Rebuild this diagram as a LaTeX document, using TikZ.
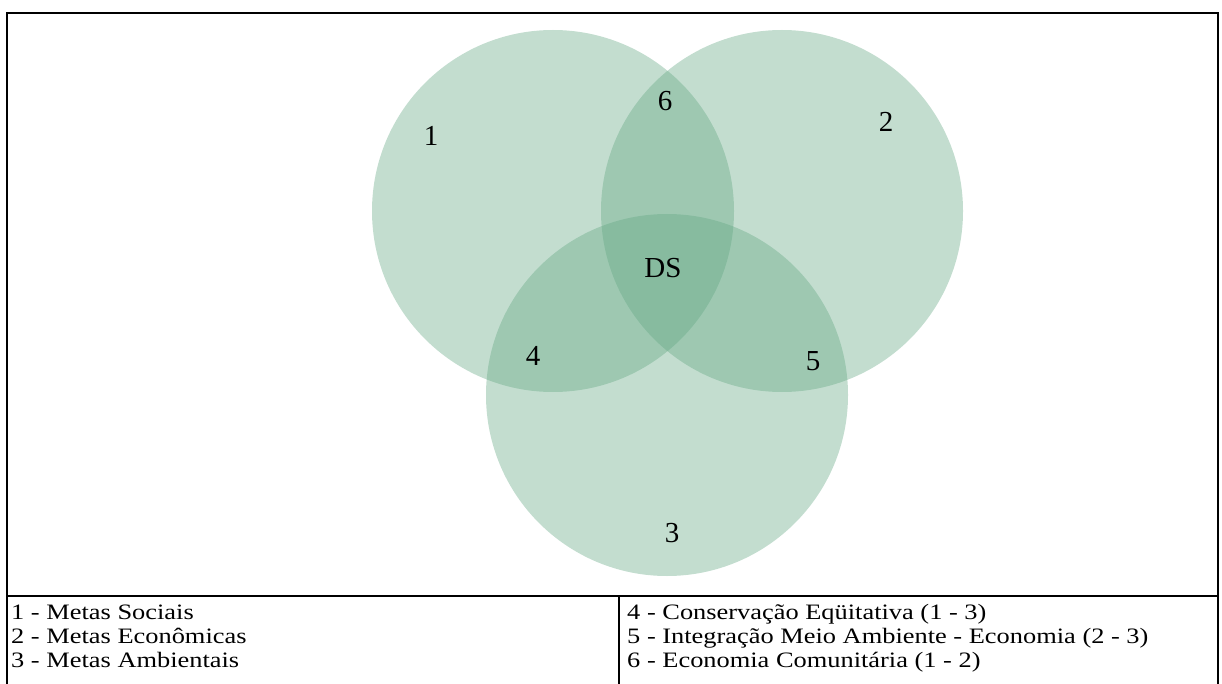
\documentclass[tikz,border=0pt]{standalone}
\usepackage{fontspec}
\setmainfont{Liberation Serif}
\definecolor{vennfill}{RGB}{97,166,129}
\newcommand{\largo}[1]{\scalebox{1.2}[1]{#1}}
\begin{document}
\begin{tikzpicture}[x=1pt,y=-1pt,
  conj/.style={fill=vennfill,fill opacity=0.38},
  rot/.style={font=\fontsize{29}{32}\selectfont,inner sep=0pt},
  leg/.style={anchor=base west,font=\fontsize{22}{24}\selectfont,inner sep=0pt}]
\useasboundingbox (0,0) rectangle (1222,684);
% circulos
\fill[conj] (553,211) circle[radius=181pt];
\fill[conj] (782,211) circle[radius=181pt];
\fill[conj] (667,395) circle[radius=181pt];
% rotulos
\node[rot] (um) at (431,136) {1};
\node[rot] (dois) at (886,122) {2};
\node[rot] (tres) at (672,533) {3};
\node[rot] (quatro) at (533,356) {4};
\node[rot] (cinco) at (813,361) {5};
\node[rot] (seis) at (665,101) {6};
\node[rot] (ds) at (663,268) {DS};
% quadro
\draw[line width=2.5pt] (7,684)--(7,13)--(1218,13)--(1218,684);
\draw[line width=2.5pt] (7,596)--(1218,596);
\draw[line width=2.5pt] (619,596)--(619,684);
% legenda
\node[leg] (l1) at (11,619) {\largo{1 - Metas Sociais}};
\node[leg] (l2) at (11,643) {\largo{2 - Metas Econômicas}};
\node[leg] (l3) at (11,667) {\largo{3 - Metas Ambientais}};
\node[leg] (l4) at (627,619) {\largo{4 - Conservação Eqüitativa (1 - 3)}};
\node[leg] (l5) at (627,643) {\largo{5 - Integração Meio Ambiente - Economia (2 - 3)}};
\node[leg] (l6) at (627,667) {\largo{6 - Economia Comunitária (1 - 2)}};
\end{tikzpicture}
\end{document}
